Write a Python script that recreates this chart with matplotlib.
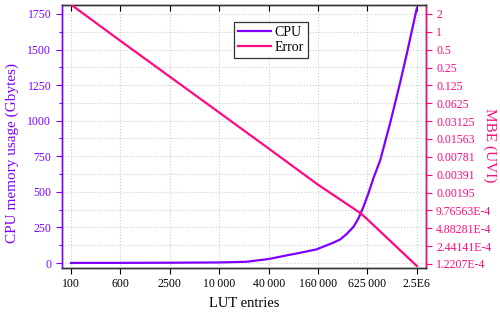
"""
CPU memory usage and MBE error versus LUT entries
"""
import matplotlib
matplotlib.use('Agg')
import matplotlib.pyplot as plt
from matplotlib.ticker import FixedLocator, MultipleLocator

plt.rcParams['font.family'] = ['Liberation Serif', 'DejaVu Serif']

# x axis categories (equally spaced)
lut_labels = ['100', '600', '2500', '10\u2009000', '40\u2009000',
              '160\u2009000', '625\u2009000', '2.5E6']

# CPU memory curve (position in category units, Gbytes)
cpu_pos = [0, 1, 2, 3, 3.56, 4, 4.43, 4.64, 4.97, 5.31, 5.45, 5.58, 5.72,
           5.82, 5.92, 6.02, 6.12, 6.26, 6.46, 6.66, 6.80, 7]
cpu_mem = [0.5, 1, 2, 4, 9, 28, 58, 72, 96, 143, 166, 204, 255,
           314, 395, 489, 594, 723, 983, 1264, 1474, 1790]

# error curve (MBE, UVI)
err_pos = [0, 1, 2, 3, 4, 5, 5.85, 6, 7]
err_val = [2.87, 0.704, 0.175, 0.0436, 0.0108, 0.00265, 8.9e-4, 6.9e-4, 1.13e-4]

# right axis tick labels (powers of two)
mbe_exp = list(range(1, -14, -1))
mbe_labels = ['2', '1', '0.5', '0.25', '0.125', '0.0625', '0.03125', '0.01563',
              '0.00781', '0.00391', '0.00195', '9.76563E-4', '4.88281E-4',
              '2.44141E-4', '1.2207E-4']

purple = '#8000FF'
pink = '#FF0A80'

fig = plt.figure(figsize=(5.0, 3.13), dpi=100)
ax1 = fig.add_axes([0.1234, 0.1438, 0.728, 0.8412])
ax2 = ax1.twinx()

# grid
for k in range(len(lut_labels)):
    ax1.axvline(k, color='#cccccc', linestyle=':', linewidth=0.8, zorder=0)
for v in range(0, 1876, 125):
    ax1.axhline(v, color='#cccccc', linestyle=':', linewidth=0.8, zorder=0)

l1, = ax1.plot(cpu_pos, cpu_mem, color=purple, linewidth=1.6, label='CPU', zorder=3)
l2, = ax2.plot(err_pos, err_val, color=pink, linewidth=1.6, label='Error', zorder=3)

ax1.set_xlim(-0.19, 7.18)
ax1.set_ylim(-35, 1815)
ax1.set_xticks(range(len(lut_labels)))
ax1.set_xticklabels(lut_labels, fontsize=8.5)
ax1.yaxis.set_major_locator(MultipleLocator(250))
ax1.yaxis.set_minor_locator(MultipleLocator(125))
ax1.tick_params(axis='y', colors=purple, labelsize=8.5, length=4, width=0.8)
ax1.tick_params(axis='y', which='minor', colors=purple, length=2.5, width=0.8)
ax1.tick_params(axis='x', length=4, width=0.8, labelsize=8.5, direction='out')
ax1.set_xlabel('LUT entries', fontsize=10.5, labelpad=5)
ax1.set_ylabel('CPU memory usage (Gbytes)', fontsize=11, color=purple, va='center')
ax1.yaxis.set_label_coords(-0.135, 0.437)

# top ticks point inward
top = ax1.secondary_xaxis('top')
top.set_xticks(range(len(lut_labels)))
top.set_xticklabels([])
top.tick_params(axis='x', direction='in', length=4, width=0.8)
top.spines['top'].set_visible(False)

ax2.set_yscale('log', base=2)
ax2.set_ylim(2 ** -13.224, 2 ** 1.52)
ax2.yaxis.set_major_locator(FixedLocator([2.0 ** e for e in mbe_exp]))
ax2.yaxis.set_minor_locator(FixedLocator([]))
ax2.set_yticklabels(mbe_labels)
ax2.tick_params(axis='y', colors=pink, labelsize=8.5, length=4, width=0.8)
ax2.set_ylabel('MBE (UVI)', fontsize=11, color=pink, rotation=270, va='center')
ax2.yaxis.set_label_coords(1.177, 0.467)

ax1.spines['left'].set_color(purple)
ax2.spines['left'].set_color(purple)
ax2.spines['right'].set_color(pink)
for ax in (ax1, ax2):
    ax.spines['bottom'].set_color('#333333')
    ax.spines['top'].set_color('#333333')
    for s in ax.spines.values():
        s.set_linewidth(1.0)

leg = ax2.legend(handles=[l1, l2], loc='upper left', bbox_to_anchor=(0.473, 0.935),
                 borderaxespad=0, fontsize=10, fancybox=False, edgecolor='#333333',
                 framealpha=1, handlelength=2.4, handletextpad=0.2,
                 borderpad=0.3, labelspacing=0.15)
leg.get_frame().set_linewidth(0.9)

fig.savefig('out.png', dpi=100)
